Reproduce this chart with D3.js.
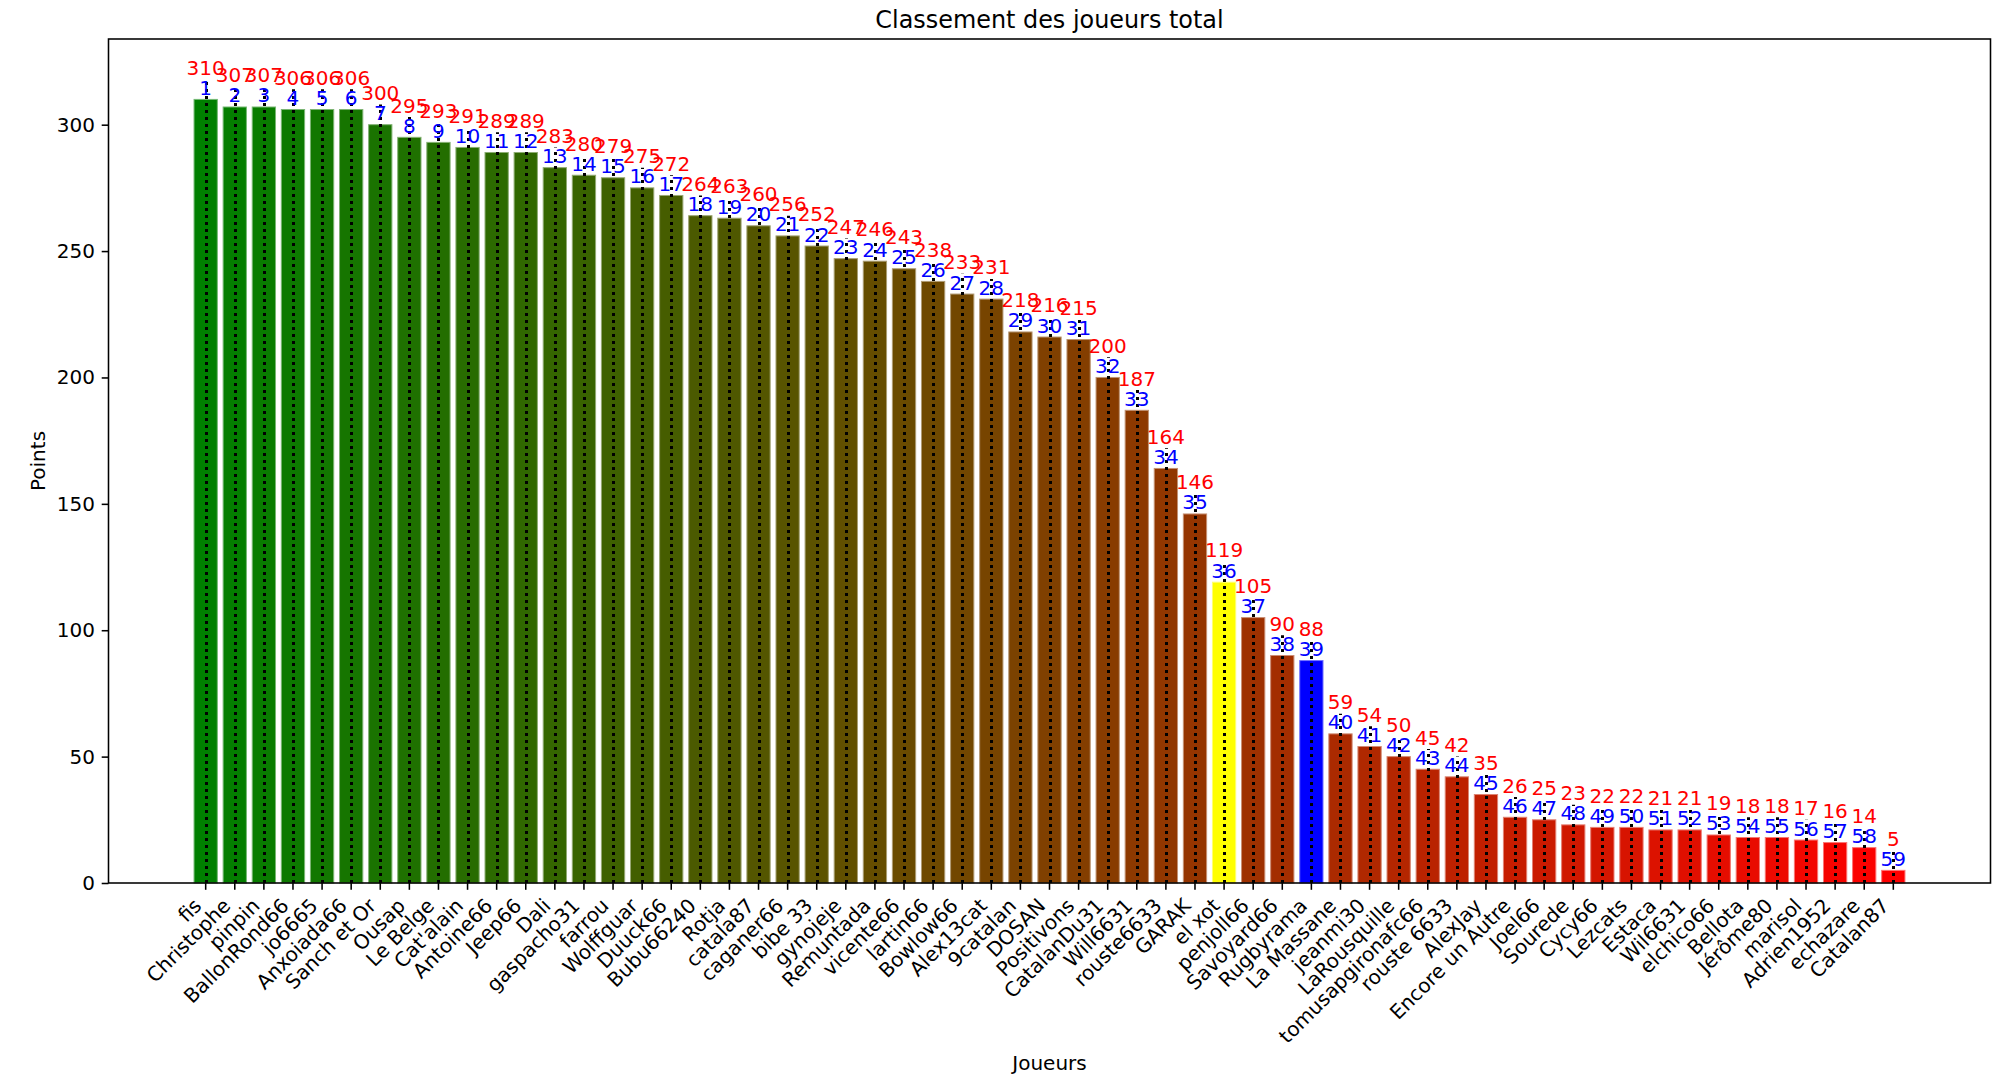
<!DOCTYPE html>
<html>
<head>
<meta charset="utf-8">
<script src="https://cdn.jsdelivr.net/npm/d3@7"></script>
<style>
  html, body { margin: 0; padding: 0; background: #ffffff; }
  svg { display: block; }
  text { font-family: "DejaVu Sans", sans-serif; }
</style>
</head>
<body>
<svg id="chart" width="2000" height="1087"></svg>
<script>
// ---- data ----
const players = ["fis","Christophe","pinpin","BallonRond66","jo6665","Anxoiada66","Sanch et Or","Ousap","Le Belge","Cat'alain",
  "Antoine66","Jeep66","Dali","gaspacho31","farrou","Wolffguar","Duuck66","Bubu66240","Rotja","catala87",
  "caganer66","bibe 33","gynojeje","Remuntada","vicente66","lartin66","Bowlow66","Alex13cat","9catalan","DOSAN",
  "Positivons","CatalanDu31","Will6631","rouste6633","GARAK","el xot","penjoll66","Savoyard66","Rugbyrama","La Massane",
  "jeanmi30","LaRousquille","tomusapgironafc66","rouste 6633","AlexJay","Encore un Autre","Joel66","Sourede","Cycy66","Lezcats",
  "Estaca","Wil6631","elchico66","Bellota","Jérôme80","marisol","Adrien1952","echazare","Catalan87"];
const points = [310,307,307,306,306,306,300,295,293,291,
  289,289,283,280,279,275,272,264,263,260,
  256,252,247,246,243,238,233,231,218,216,
  215,200,187,164,146,119,105,90,88,59,
  54,50,45,42,35,26,25,23,22,22,
  21,21,19,18,18,17,16,14,5];
const ranks = [1,2,3,4,5,6,7,8,9,10,11,12,13,14,15,16,17,18,19,20,
  21,22,23,24,25,26,27,28,29,30,31,32,33,34,35,36,37,38,39,40,
  41,42,43,44,45,46,47,48,49,50,51,52,53,54,55,56,57,58,59];
const yTicks = [0,50,100,150,200,250,300];
const highlightYellow = ["el xot"];
const highlightBlue = ["Rugbyrama"];
const labelOffset = 8; // value label & guide line reach (points above bar)

// ---- layout ----
const L = 108.5, R = 1990.5, T = 39, B = 883;
const FS = 20;
const svg = d3.select("#chart");

const x = d3.scaleBand().domain(players).range([L, R]).paddingInner(0.2).paddingOuter(2.94);
const yMax = (d3.max(points) + labelOffset) * 1.05;
const y = d3.scaleLinear().domain([0, yMax]).range([B, T]);

const grad = d3.interpolateRgb("rgb(0,128,0)", "rgb(255,0,0)");
function colorOf(name, i) {
  if (highlightYellow.includes(name)) return "#ffff00";
  if (highlightBlue.includes(name)) return "#0000ff";
  return grad(i / (players.length - 1));
}

const data = players.map((p, i) => ({ name: p, value: points[i], rank: ranks[i], i }));

// bars
svg.append("g").selectAll("rect").data(data).join("rect")
  .attr("x", d => x(d.name))
  .attr("width", x.bandwidth())
  .attr("y", d => y(d.value))
  .attr("height", d => y(0) - y(d.value))
  .attr("fill", d => colorOf(d.name, d.i))
  .attr("stroke", d => d3.interpolateRgb(colorOf(d.name, d.i), "#ffffff")(0.45))
  .attr("stroke-width", 1);

// dotted guide lines
svg.append("g").selectAll("line").data(data).join("line")
  .attr("x1", d => Math.round(x(d.name) + x.bandwidth() / 2) + 0.5)
  .attr("x2", d => Math.round(x(d.name) + x.bandwidth() / 2) + 0.5)
  .attr("y1", d => y(0))
  .attr("y2", d => y(d.value + labelOffset))
  .attr("stroke", "#000")
  .attr("stroke-width", 3)
  .attr("stroke-dasharray", "3 4");

// x axis
const xAxis = svg.append("g").attr("transform", `translate(0,${B})`)
  .call(d3.axisBottom(x).tickSize(6.8).tickSizeOuter(0));
xAxis.select(".domain").remove();
xAxis.selectAll(".tick line").attr("stroke", "#000").attr("stroke-width", 1.55);
xAxis.selectAll(".tick text")
  .attr("x", 0).attr("y", 0).attr("dy", null)
  .attr("transform", "translate(-3,24) rotate(-45)")
  .style("text-anchor", "end")
  .style("font-size", FS + "px")
  .style("font-family", "'DejaVu Sans', sans-serif")
  .attr("fill", "#000");

// y axis
const yAxis = svg.append("g").attr("transform", `translate(${L},0)`)
  .call(d3.axisLeft(y).tickValues(yTicks).tickSize(6.8).tickPadding(6.8).tickSizeOuter(0));
yAxis.select(".domain").remove();
yAxis.selectAll(".tick line").attr("stroke", "#000").attr("stroke-width", 1.55);
yAxis.selectAll(".tick text")
  .style("font-size", FS + "px")
  .style("font-family", "'DejaVu Sans', sans-serif")
  .attr("fill", "#000");

// value labels
svg.append("g").selectAll("text").data(data).join("text")
  .attr("x", d => x(d.name) + x.bandwidth() / 2)
  .attr("y", d => y(d.value + labelOffset) - 4.5)
  .attr("text-anchor", "middle")
  .attr("fill", "#ff0000")
  .style("font-size", FS + "px")
  .text(d => d.value);

// rank labels
svg.append("g").selectAll("text").data(data).join("text")
  .attr("x", d => x(d.name) + x.bandwidth() / 2)
  .attr("y", d => y(d.value) - 4.5)
  .attr("text-anchor", "middle")
  .attr("fill", "#0000ff")
  .style("font-size", FS + "px")
  .text(d => d.rank);

// frame
svg.append("rect")
  .attr("x", L).attr("y", T).attr("width", R - L).attr("height", B - T)
  .attr("fill", "none").attr("stroke", "#000").attr("stroke-width", 1.55);

// title & axis labels
svg.append("text").attr("x", (L + R) / 2).attr("y", 27.5)
  .attr("text-anchor", "middle").style("font-size", "23.9px").attr("fill", "#000")
  .text("Classement des joueurs total");
svg.append("text").attr("x", (L + R) / 2).attr("y", 1070)
  .attr("text-anchor", "middle").style("font-size", FS + "px").attr("fill", "#000")
  .text("Joueurs");
svg.append("text")
  .attr("transform", `translate(45,${(T + B) / 2}) rotate(-90)`)
  .attr("text-anchor", "middle").style("font-size", FS + "px").attr("fill", "#000")
  .text("Points");
</script>
</body>
</html>
